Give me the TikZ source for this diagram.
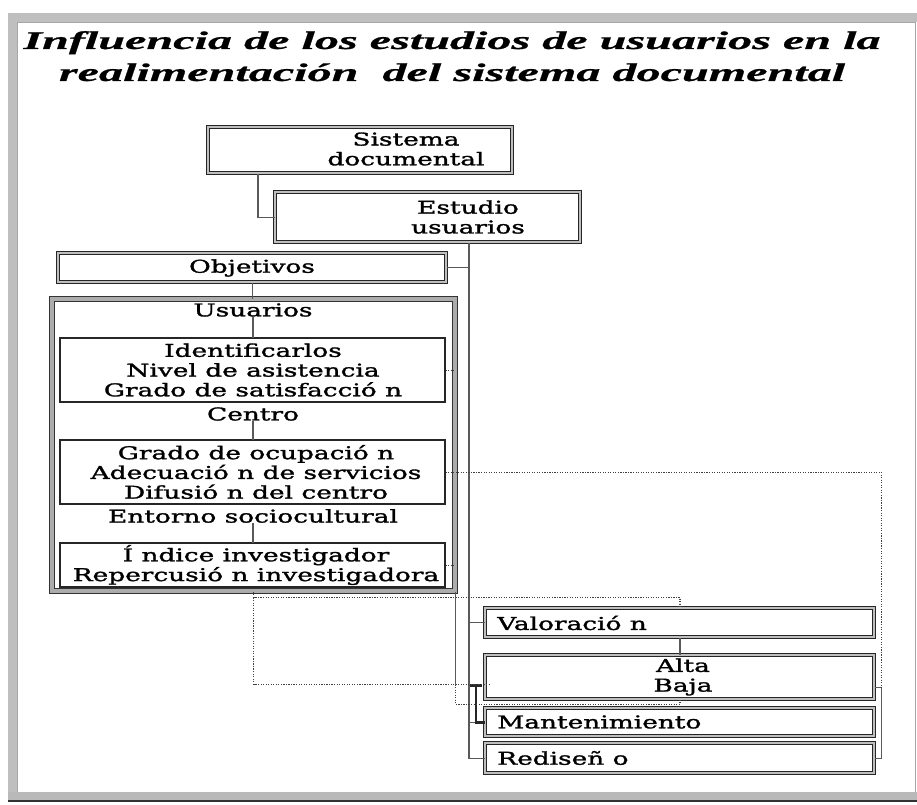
\documentclass[tikz,border=0pt]{standalone}
\usepackage{fontspec}
\newfontfamily\titlefont[FakeStretch=1.9,FakeBold=0.8]{Liberation Serif}
\newfontfamily\boxfont[FakeStretch=1.5,FakeBold=1.6]{DejaVu Serif}
\usetikzlibrary{calc}
\begin{document}
\begin{tikzpicture}[x=0.75pt,y=-0.75pt,
  boxshape/.style={draw=black!85, double=gray!50, double distance=1.1pt, line width=0.8pt, fill=white, inner sep=0pt},
  bigshape/.style={draw=black!80, double=gray!65, double distance=2.8pt, line width=0.8pt},
  innershape/.style={draw=black!85, line width=1.3pt},
  txt/.style={font=\boxfont\fontsize{13.2}{14.8}\selectfont, align=center, inner sep=0pt, text=black},
  ttl/.style={font=\titlefont\bfseries\itshape\fontsize{19}{22}\selectfont, inner sep=0pt, anchor=base, text=black},
  conn/.style={draw=black!65, line width=0.8pt},
  dotline/.style={draw=black!75, line width=0.9pt, densely dotted},
  bracketline/.style={draw=black!85, line width=2pt}
]
\useasboundingbox (0,0) rectangle (917,805);
\fill[white] (0,0) rectangle (917,805);
% frame
\fill[gray!50] (8,13) rectangle (917,22);
\fill[gray!50] (8,13) rectangle (17,800);
\fill[gray!55] (8,792) rectangle (917,800);
\draw[black!80, line width=1pt] (8,801) -- (917,801);
\draw[gray!70, line width=0.6pt] (17,792) -- (17,22) -- (915,22) -- (915,792);

% title
\node[ttl] (t1) at (452,49) {Influencia de los estudios de usuarios en la};
\node[ttl] (t2) at (452,81) {realimentación\ \ del sistema documental};

% boxes
\path[boxshape] (208,127) rectangle (512,173);
\node[inner sep=0pt, minimum width=304*0.75pt, minimum height=46*0.75pt, anchor=north west] (sis) at (208,127) {};
\path[boxshape] (275,192) rectangle (580,242);
\node[inner sep=0pt, minimum width=305*0.75pt, minimum height=50*0.75pt, anchor=north west] (est) at (275,192) {};
\path[boxshape] (58,253) rectangle (446,282);
\node[inner sep=0pt, minimum width=388*0.75pt, minimum height=29*0.75pt, anchor=north west] (obj) at (58,253) {};
\path[bigshape] (52,299) rectangle (455,591);
\node[inner sep=0pt, minimum width=403*0.75pt, minimum height=292*0.75pt, anchor=north west] (big) at (52,299) {};
\path[innershape] (60,338) rectangle (445,402);
\node[inner sep=0pt, minimum width=385*0.75pt, minimum height=64*0.75pt, anchor=north west] (in1) at (60,338) {};
\path[innershape] (60,440) rectangle (445,504);
\node[inner sep=0pt, minimum width=385*0.75pt, minimum height=64*0.75pt, anchor=north west] (in2) at (60,440) {};
\path[innershape] (60,543) rectangle (445,587);
\node[inner sep=0pt, minimum width=385*0.75pt, minimum height=44*0.75pt, anchor=north west] (in3) at (60,543) {};
\path[boxshape] (485,608) rectangle (874,637);
\node[inner sep=0pt, minimum width=389*0.75pt, minimum height=29*0.75pt, anchor=north west] (val) at (485,608) {};
\path[boxshape] (485,655) rectangle (874,699);
\node[inner sep=0pt, minimum width=389*0.75pt, minimum height=44*0.75pt, anchor=north west] (alta) at (485,655) {};
\path[boxshape] (485,708) rectangle (874,736);
\node[inner sep=0pt, minimum width=389*0.75pt, minimum height=28*0.75pt, anchor=north west] (mant) at (485,708) {};
\path[boxshape] (485,743) rectangle (874,773);
\node[inner sep=0pt, minimum width=389*0.75pt, minimum height=30*0.75pt, anchor=north west] (redis) at (485,743) {};

% texts
\node[txt] (sisT) at (406,149) {Sistema\\documental};
\node[txt] (estT) at (468,217) {Estudio\\usuarios};
\node[txt] (objT) at (252,268) {Objetivos};
\node[txt] (usuT) at (253,310) {Usuarios};
\node[txt] (in1T) at (253,370) {Identificarlos\\Nivel de asistencia\\Grado de satisfacció n};
\node[txt] (cenT) at (253,414) {Centro};
\node[txt] (in2T) at (256,472) {Grado de ocupació n\\Adecuació n de servicios\\Difusió n del centro};
\node[txt] (entT) at (253,516) {Entorno sociocultural};
\node[txt] (in3T) at (256,565) {Í ndice investigador\\Repercusió n investigadora};
\node[txt, anchor=west] (valT) at (497,623) {Valoració n};
\node[txt] (altaT) at (683,677) {Alta\\Baja};
\node[txt, anchor=west] (mantT) at (497,722) {Mantenimiento};
\node[txt, anchor=west] (redisT) at (497,758) {Rediseñ o};

% helper coordinates
\coordinate (sp) at (469,0);
\coordinate (vx) at (680,0);

% solid connectors
\draw[conn] ($(sis.south west)+(50,0)$) |- (est.west);
\draw[conn] (est.south -| sp) -- (redis.west -| sp) -- (redis.west);
\draw[conn] (obj.east) -- (obj.east -| sp);
\draw[conn] (val.west -| sp) -- (val.west);
\draw[conn] (mant.west -| sp) -- (mant.west);
\draw[conn] (obj.south) -- (obj.south |- big.north);
\draw[conn] (usuT.south) -- (usuT.south |- in1.north);
\draw[conn] (cenT.south) -- (cenT.south |- in2.north);
\draw[conn] (entT.south) -- (entT.south |- in3.north);
\draw[conn] (val.south -| vx) -- (alta.north -| vx);
\draw[conn] ($(alta.south east)+(0,-12)$) -- ++(7,0) |- (redis.east);
\draw[conn] (big.south east) -- ++(0,93);
% bracket
\draw[bracketline] ($(alta.south west)+(-15,-14)$) -- ($(alta.south west)+(-3,-14)$);
\draw[bracketline] ($(alta.south west)+(-9,-14)$) |- (mant.west);

% dotted feedback lines
\draw[dotline] (in1.east) -- (in1.east -| big.east);
\draw[dotline] (in3.east) -- (in3.east -| big.east);
\draw[dotline] (in2.east) -| ($(alta.south east)+(7,-12)$);
\draw[dotline] (big.south) -- ++(0,6) -| (val.north -| vx);
\draw[dotline] ($(big.south)+(0,6)$) -- ($(big.south)+(0,93)$) -- ($(alta.south west)+(5,-15)$);
\draw[dotline] ($(big.south east)+(0,93)$) -- ++(0,20) -| (alta.south -| vx);
\end{tikzpicture}
\end{document}
